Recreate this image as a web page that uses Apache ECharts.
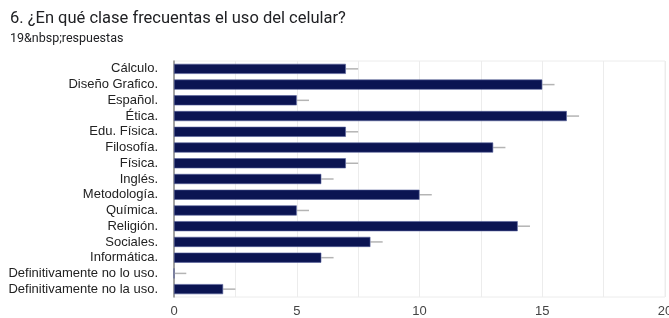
<!DOCTYPE html>
<html>
<head>
<meta charset="utf-8">
<script src="https://cdn.jsdelivr.net/npm/echarts@6/dist/echarts.min.js"></script>
<style>
  html, body { margin: 0; padding: 0; background: #fff; }
  #chart { width: 669px; height: 318px; }
</style>
</head>
<body>
<div id="chart"></div>
<script>
// datos ------------------
var categorias = ['Cálculo.', 'Diseño Grafico.', 'Español.', 'Ética.', 'Edu. Física.', 'Filosofía.', 'Física.',
  'Inglés.', 'Metodología.', 'Química.', 'Religión.', 'Sociales.', 'Informática.',
  'Definitivamente no lo uso.', 'Definitivamente no la uso.'];
var respuestas = [7, 15, 5, 16, 7, 13, 7, 6, 10, 5, 14, 8, 6, 0, 2];
var errores = [0.5, 0.5, 0.5, 0.5, 0.5, 0.5, 0.5, 0.5, 0.5, 0.5, 0.5, 0.5, 0.5, 0.5, 0.5];
var ticksX = [0, 5, 10, 15, 20];

var myChart = echarts.init(document.getElementById('chart'));

var option = {
  animation: false,
  title: {
    text: '6. ¿En qué clase frecuentas el uso del celular?',
    subtext: '19&nbsp;respuestas',
    left: 5,
    top: 5,
    itemGap: 5,
    textStyle: { fontFamily: 'Roboto', fontSize: 16.5, fontWeight: 'normal', color: '#202124' },
    subtextStyle: { fontFamily: 'Roboto', fontSize: 12.5, color: '#202124' }
  },
  grid: {
    left: 174, right: 4, top: 61, bottom: 21,
    outerBoundsMode: 'none',
    containLabel: false,
    show: true, borderColor: '#ececec', borderWidth: 1
  },
  xAxis: {
    type: 'value',
    min: 0, max: 20, interval: 2.5,
    axisLine: { show: false },
    axisTick: { show: false },
    splitLine: { lineStyle: { color: '#ececec', width: 1 } },
    axisLabel: {
      color: '#444', fontFamily: 'Liberation Sans', fontSize: 13, margin: 8,
      formatter: function (v) { return ticksX.indexOf(v) >= 0 ? String(v) : ''; }
    }
  },
  yAxis: {
    type: 'category',
    inverse: true,
    data: categorias,
    axisLine: { show: true, lineStyle: { color: '#8a8a8a', width: 1.5 } },
    axisTick: { show: false },
    axisLabel: { interval: 0, color: '#222', fontFamily: 'Liberation Sans', fontSize: 13, margin: 16 }
  },
  series: [
    {
      name: 'respuestas',
      type: 'bar',
      data: respuestas,
      barCategoryGap: '36%',
      itemStyle: { color: '#0b1452', borderColor: '#56609a', borderWidth: 0.6 }
    },
    {
      name: 'error',
      type: 'custom',
      data: respuestas.map(function (v, i) { return [v, i, errores[i]]; }),
      renderItem: function (params, api) {
        var p0 = api.coord([api.value(0), api.value(1)]);
        var p1 = api.coord([api.value(0) + api.value(2), api.value(1)]);
        return {
          type: 'line',
          shape: { x1: p0[0], y1: p0[1], x2: p1[0], y2: p1[1] },
          style: { stroke: '#b4b4b4', lineWidth: 1.5 }
        };
      },
      z: 1
    }
  ]
};
myChart.setOption(option);
</script>
</body>
</html>
